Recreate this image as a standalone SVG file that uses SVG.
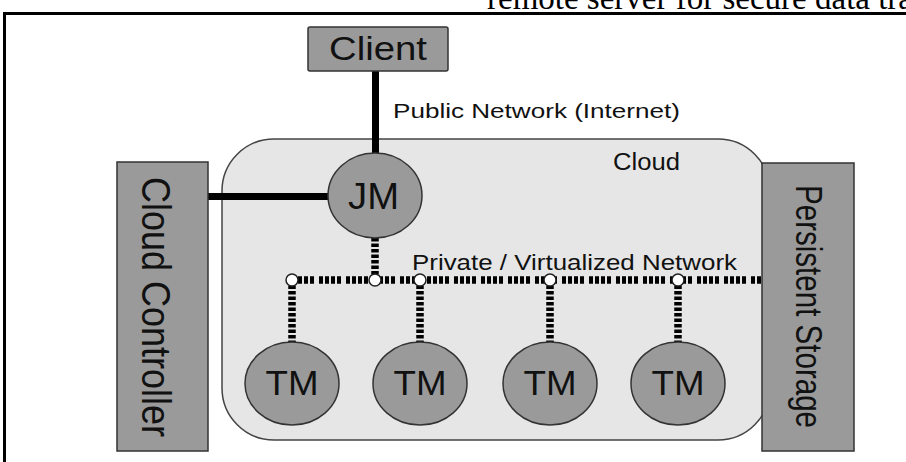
<svg xmlns="http://www.w3.org/2000/svg" width="906" height="462" viewBox="0 0 906 462">
  <style>
    .box { fill: #9a9a9a; stroke: #333; stroke-width: 1.5; }
    .node { fill: #9a9a9a; stroke: #333; stroke-width: 1.5; }
    .cloud { fill: #e6e6e6; stroke: #444; stroke-width: 1.5; }
    .lbl { font-family: "Liberation Sans", Arial, sans-serif; fill: #111; }
    .solid { stroke: #000; stroke-width: 7; fill: none; }
    .bus { stroke: #000; stroke-width: 7.5; fill: none; stroke-dasharray: 4 2 4 2 4 2 4 5; }
    .drop { stroke: #000; stroke-width: 7.5; fill: none; stroke-dasharray: 3.5 2; }
    .junction { fill: #fff; stroke: #222; stroke-width: 1.5; }
  </style>

  <g id="page-frame">
    <text x="487" y="8.5" font-family="'Liberation Serif', 'Times New Roman', serif" font-size="33" fill="#000">remote server for secure data tra</text>
    <rect x="3" y="12" width="903" height="3" fill="#000"/>
    <rect x="3" y="12" width="3" height="450" fill="#000"/>
  </g>

  <g id="cloud">
    <rect class="cloud" x="222" y="139" width="548" height="301" rx="52" ry="52"/>
    <text class="lbl" x="613" y="170" font-size="23" textLength="67" lengthAdjust="spacingAndGlyphs">Cloud</text>
  </g>

  <g id="connectors">
    <line class="solid" x1="375.5" y1="71" x2="375.5" y2="154"/>
    <line class="solid" x1="208" y1="196.5" x2="329" y2="196.5"/>
    <line class="drop" x1="375" y1="238" x2="375" y2="280"/>
    <line class="bus" x1="292" y1="280" x2="762" y2="280"/>
    <line class="drop" x1="292" y1="280" x2="292" y2="342"/>
    <line class="drop" x1="420" y1="280" x2="420" y2="342"/>
    <line class="drop" x1="550" y1="280" x2="550" y2="342"/>
    <line class="drop" x1="678" y1="280" x2="678" y2="342"/>
    <circle class="junction" cx="292" cy="280" r="6"/>
    <circle class="junction" cx="375" cy="280" r="6"/>
    <circle class="junction" cx="420" cy="280" r="6"/>
    <circle class="junction" cx="550" cy="280" r="6"/>
    <circle class="junction" cx="678" cy="280" r="6"/>
    <text class="lbl" x="393" y="118" font-size="21" textLength="287" lengthAdjust="spacingAndGlyphs">Public Network (Internet)</text>
    <text class="lbl" x="412" y="270" font-size="22" textLength="325" lengthAdjust="spacingAndGlyphs">Private / Virtualized Network</text>
  </g>

  <g id="client">
    <rect class="box" x="308" y="27" width="140" height="44" rx="2"/>
    <text class="lbl" x="329" y="60" font-size="34" textLength="98" lengthAdjust="spacingAndGlyphs">Client</text>
  </g>

  <g id="jm">
    <ellipse class="node" cx="375" cy="195.5" rx="47" ry="42.5"/>
    <text class="lbl" x="348" y="209" font-size="36" textLength="51" lengthAdjust="spacingAndGlyphs">JM</text>
  </g>

  <g id="cloud-controller">
    <rect class="box" x="117" y="162" width="91" height="289"/>
    <text class="lbl" transform="translate(142,307) rotate(90) scale(1,1.15)" text-anchor="middle" font-size="35" textLength="260" lengthAdjust="spacingAndGlyphs">Cloud Controller</text>
  </g>

  <g id="persistent-storage">
    <rect class="box" x="762" y="163" width="92" height="288"/>
    <text class="lbl" transform="translate(796,306.5) rotate(90) scale(1,1.15)" text-anchor="middle" font-size="32" textLength="243" lengthAdjust="spacingAndGlyphs">Persistent Storage</text>
  </g>

  <g id="tm1">
    <ellipse class="node" cx="292" cy="383.5" rx="47" ry="41.5"/>
    <text class="lbl" x="265.5" y="395" font-size="35" textLength="53" lengthAdjust="spacingAndGlyphs">TM</text>
  </g>
  <g id="tm2">
    <ellipse class="node" cx="420" cy="383.5" rx="47" ry="41.5"/>
    <text class="lbl" x="393.5" y="395" font-size="35" textLength="53" lengthAdjust="spacingAndGlyphs">TM</text>
  </g>
  <g id="tm3">
    <ellipse class="node" cx="550" cy="383.5" rx="47" ry="41.5"/>
    <text class="lbl" x="523.5" y="395" font-size="35" textLength="53" lengthAdjust="spacingAndGlyphs">TM</text>
  </g>
  <g id="tm4">
    <ellipse class="node" cx="678" cy="383.5" rx="47" ry="41.5"/>
    <text class="lbl" x="651.5" y="395" font-size="35" textLength="53" lengthAdjust="spacingAndGlyphs">TM</text>
  </g>
</svg>
